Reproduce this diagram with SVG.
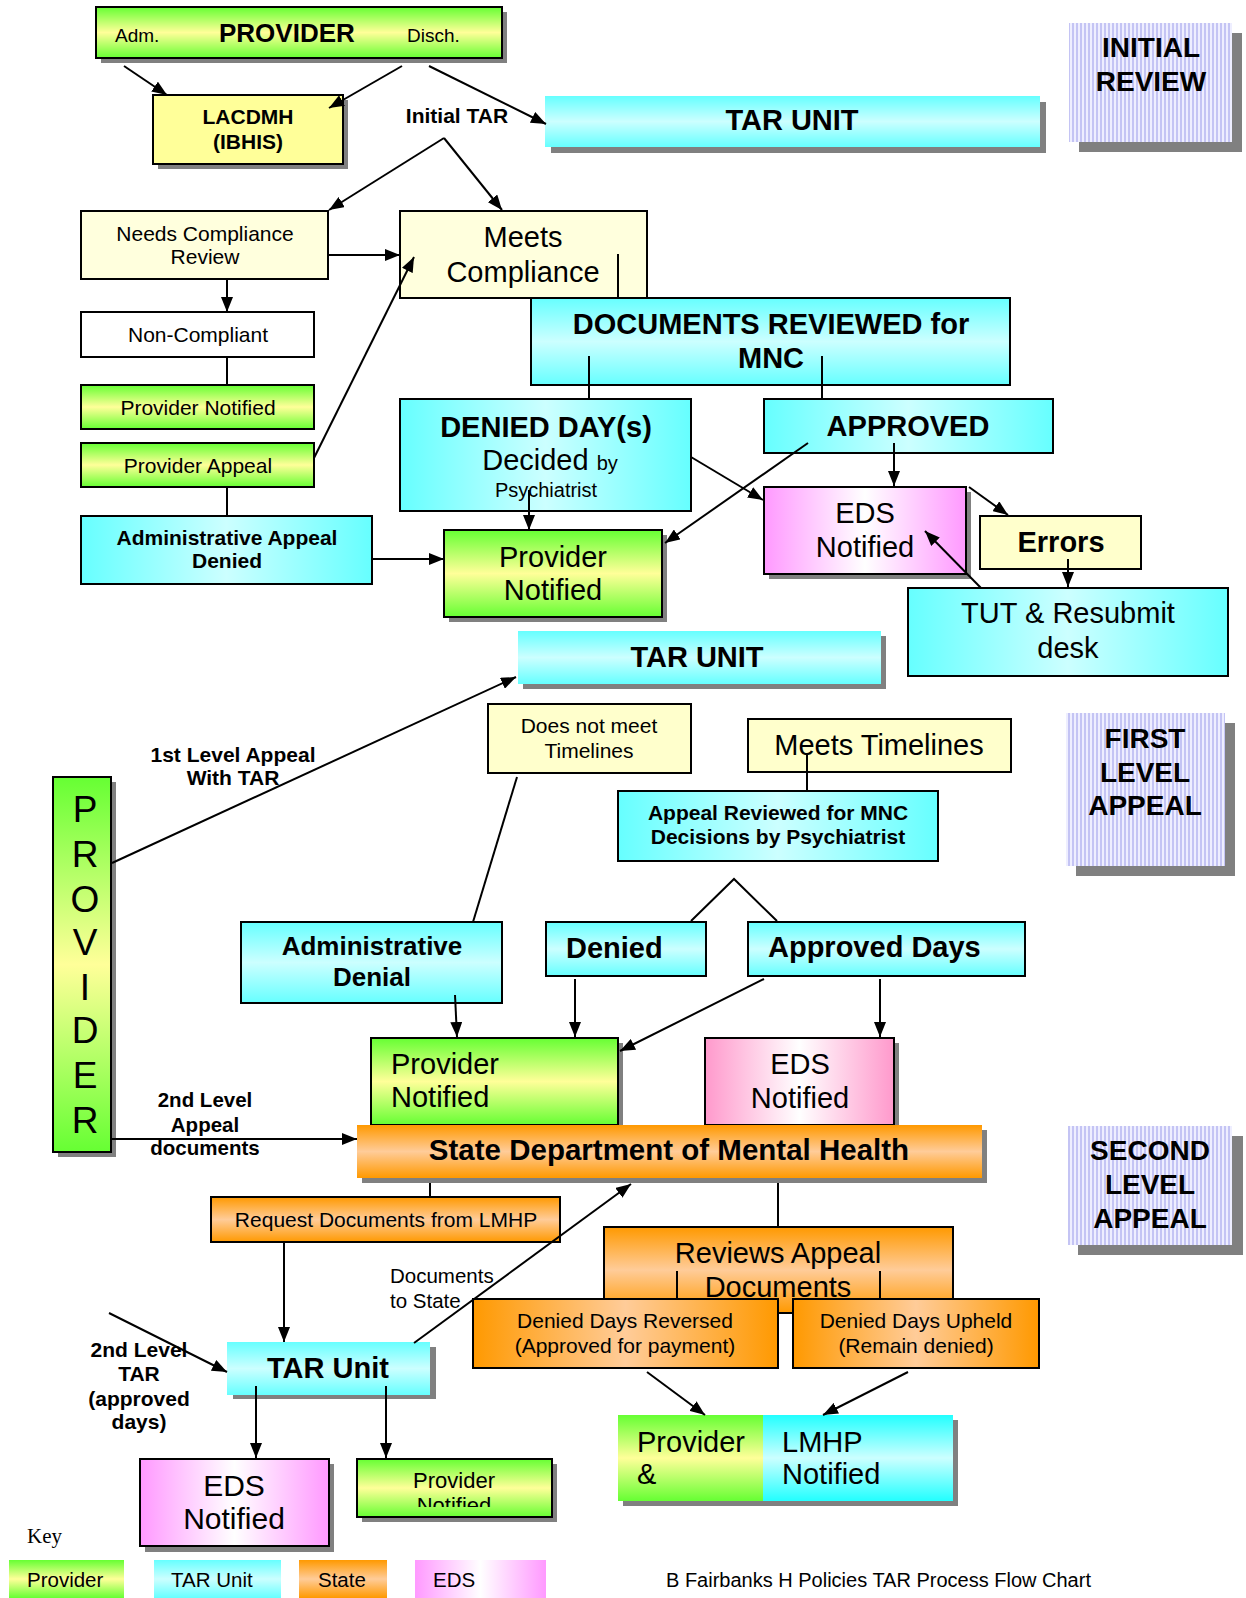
<svg xmlns="http://www.w3.org/2000/svg" width="1246" height="1598" viewBox="0 0 1246 1598">
<defs>
<style>
text{font-family:"Liberation Sans",Arial,sans-serif;fill:#000}
.b{font-weight:bold}
.m{text-anchor:middle}
.bx{stroke:#000;stroke-width:2}
.sh{fill:#808080}
.c{stroke:#000;stroke-width:2;fill:none}
.a{marker-end:url(#ah)}
</style>
<marker id="ah" markerUnits="userSpaceOnUse" markerWidth="16" markerHeight="12" refX="15" refY="6" orient="auto"><path d="M0,0 L15,6 L0,12 z" fill="#000"/></marker>
<linearGradient id="gGreenV" x1="0" y1="0" x2="0" y2="1"><stop offset="0" stop-color="#66FF33"/><stop offset="0.5" stop-color="#FFFF99"/><stop offset="1" stop-color="#66FF33"/></linearGradient>
<linearGradient id="gCyanV" x1="0" y1="0" x2="0" y2="1"><stop offset="0" stop-color="#66FFFF"/><stop offset="0.5" stop-color="#CCFFFF"/><stop offset="1" stop-color="#66FFFF"/></linearGradient>
<linearGradient id="gCyanV2" x1="0" y1="0" x2="0" y2="1"><stop offset="0" stop-color="#22FFFF"/><stop offset="0.5" stop-color="#CCFFFF"/><stop offset="1" stop-color="#22FFFF"/></linearGradient>
<linearGradient id="gCyanH" x1="0" y1="0" x2="1" y2="0"><stop offset="0" stop-color="#66FFFF"/><stop offset="0.5" stop-color="#CCFFFF"/><stop offset="1" stop-color="#66FFFF"/></linearGradient>
<linearGradient id="gOrangeV" x1="0" y1="0" x2="0" y2="1"><stop offset="0" stop-color="#FF9900"/><stop offset="0.5" stop-color="#FFCC99"/><stop offset="1" stop-color="#FF9900"/></linearGradient>
<linearGradient id="gOrangeH" x1="0" y1="0" x2="1" y2="0"><stop offset="0" stop-color="#FF9900"/><stop offset="0.5" stop-color="#FFCC99"/><stop offset="1" stop-color="#FF9900"/></linearGradient>
<linearGradient id="gPinkH" x1="0" y1="0" x2="1" y2="0"><stop offset="0" stop-color="#FF99FF"/><stop offset="0.5" stop-color="#FFFFFF"/><stop offset="1" stop-color="#FF99FF"/></linearGradient>
<linearGradient id="gPink2H" x1="0" y1="0" x2="1" y2="0"><stop offset="0" stop-color="#FF99CC"/><stop offset="0.5" stop-color="#FFFFFF"/><stop offset="1" stop-color="#FF99CC"/></linearGradient>
<pattern id="stripes" patternUnits="userSpaceOnUse" width="4" height="4"><rect width="4" height="4" fill="#EEEEFF"/><rect width="2" height="4" fill="#C4C4F4"/></pattern>
<clipPath id="clipPN3"><rect x="357" y="1459" width="195" height="48"/></clipPath>
</defs>
<rect width="1246" height="1598" fill="#FFFFFF"/>

<g id="provider-top">
<rect class="sh" x="101" y="12" width="406" height="51"/>
<rect class="bx" x="96" y="7" width="406" height="51" fill="url(#gGreenV)"/>
<text x="115" y="42" font-size="19">Adm.</text>
<text x="219" y="42" font-size="26" class="b">PROVIDER</text>
<text x="407" y="42" font-size="19">Disch.</text>
</g>
<g id="lacdmh">
<rect class="sh" x="158" y="100" width="190" height="69"/>
<rect class="bx" x="153" y="95" width="190" height="69" fill="#FFFF99"/>
<text x="248" y="124" font-size="21" class="b m">LACDMH</text>
<text x="248" y="149" font-size="21" class="b m">(IBHIS)</text>
</g>
<g id="tar-unit-1">
<rect class="sh" x="551" y="102" width="495" height="51"/>
<rect x="545" y="96" width="495" height="51" fill="url(#gCyanV)"/>
<text x="792" y="130" font-size="29" class="b m">TAR UNIT</text>
</g>
<g id="initial-review">
<rect class="sh" x="1079" y="33" width="163" height="119"/>
<rect x="1069" y="23" width="163" height="119" fill="url(#stripes)"/>
<text x="1151" y="57" font-size="28" class="b m">INITIAL</text>
<text x="1151" y="91" font-size="28" class="b m">REVIEW</text>
</g>
<g id="needs-compliance">
<rect class="bx" x="81" y="211" width="247" height="68" fill="#FFFFDD"/>
<text x="205" y="241" font-size="21" class="m">Needs Compliance</text>
<text x="205" y="264" font-size="21" class="m">Review</text>
</g>
<g id="meets-compliance">
<rect class="bx" x="400" y="211" width="247" height="87" fill="#FFFFDD"/>
<text x="523" y="247" font-size="29" class="m">Meets</text>
<text x="523" y="282" font-size="29" class="m">Compliance</text>
</g>
<g id="documents-reviewed">
<rect class="bx" x="531" y="298" width="479" height="87" fill="url(#gCyanV)"/>
<text x="771" y="334" font-size="29" class="b m">DOCUMENTS REVIEWED for</text>
<text x="771" y="368" font-size="29" class="b m">MNC</text>
</g>
<g id="non-compliant">
<rect class="bx" x="81" y="312" width="233" height="45" fill="#FFFFFF"/>
<text x="198" y="342" font-size="21" class="m">Non-Compliant</text>
</g>
<g id="provider-notified-1">
<rect class="bx" x="81" y="385" width="233" height="44" fill="url(#gGreenV)"/>
<text x="198" y="415" font-size="21" class="m">Provider Notified</text>
</g>
<g id="provider-appeal">
<rect class="bx" x="81" y="443" width="233" height="44" fill="url(#gGreenV)"/>
<text x="198" y="473" font-size="21" class="m">Provider Appeal</text>
</g>
<g id="admin-appeal-denied">
<rect class="bx" x="81" y="516" width="291" height="68" fill="url(#gCyanH)"/>
<text x="227" y="545" font-size="21" class="b m">Administrative Appeal</text>
<text x="227" y="568" font-size="21" class="b m">Denied</text>
</g>
<g id="denied-days">
<rect class="bx" x="400" y="399" width="291" height="112" fill="url(#gCyanH)"/>
<text x="546" y="437" font-size="29" class="b m">DENIED DAY(s)</text>
<text x="550" y="470" font-size="29" class="m">Decided <tspan font-size="20">by</tspan></text>
<text x="546" y="497" font-size="20" class="m">Psychiatrist</text>
</g>
<g id="approved">
<rect class="bx" x="764" y="399" width="289" height="54" fill="url(#gCyanH)"/>
<text x="908" y="436" font-size="29" class="b m">APPROVED</text>
</g>
<g id="provider-notified-2">
<rect class="sh" x="449" y="535" width="218" height="87"/>
<rect class="bx" x="444" y="530" width="218" height="87" fill="url(#gGreenV)"/>
<text x="553" y="567" font-size="29" class="m">Provider</text>
<text x="553" y="600" font-size="29" class="m">Notified</text>
</g>
<g id="eds-notified-1">
<rect class="sh" x="769" y="492" width="202" height="87"/>
<rect class="bx" x="764" y="487" width="202" height="87" fill="url(#gPinkH)"/>
<text x="865" y="523" font-size="29" class="m">EDS</text>
<text x="865" y="557" font-size="29" class="m">Notified</text>
</g>
<g id="errors">
<rect class="bx" x="980" y="516" width="161" height="53" fill="#FFFFCC"/>
<text x="1061" y="552" font-size="29" class="b m">Errors</text>
</g>
<g id="tut-resubmit">
<rect class="bx" x="908" y="588" width="320" height="88" fill="url(#gCyanH)"/>
<text x="1068" y="623" font-size="29" class="m">TUT &amp; Resubmit</text>
<text x="1068" y="658" font-size="29" class="m">desk</text>
</g>
<g id="tar-unit-2">
<rect class="sh" x="523" y="636" width="363" height="53"/>
<rect x="518" y="631" width="363" height="53" fill="url(#gCyanV)"/>
<text x="697" y="667" font-size="29" class="b m">TAR UNIT</text>
</g>
<g id="provider-vertical">
<rect class="sh" x="58" y="782" width="58" height="375"/>
<rect class="bx" x="53" y="777" width="58" height="375" fill="url(#gGreenV)"/>
<text x="85" y="822" font-size="37" class="m">P</text>
<text x="85" y="867" font-size="37" class="m">R</text>
<text x="85" y="912" font-size="37" class="m">O</text>
<text x="85" y="955" font-size="37" class="m">V</text>
<text x="85" y="1000" font-size="37" class="m">I</text>
<text x="85" y="1043" font-size="37" class="m">D</text>
<text x="85" y="1088" font-size="37" class="m">E</text>
<text x="85" y="1133" font-size="37" class="m">R</text>
</g>
<g id="does-not-meet">
<rect class="bx" x="488" y="704" width="203" height="69" fill="#FFFFCC"/>
<text x="589" y="733" font-size="21" class="m">Does not meet</text>
<text x="589" y="758" font-size="21" class="m">Timelines</text>
</g>
<g id="meets-timelines">
<rect class="bx" x="748" y="719" width="263" height="53" fill="#FFFFCC"/>
<text x="879" y="755" font-size="29" class="m">Meets Timelines</text>
</g>
<g id="appeal-reviewed">
<rect class="bx" x="618" y="791" width="320" height="70" fill="url(#gCyanH)"/>
<text x="778" y="820" font-size="21" class="b m">Appeal Reviewed for MNC</text>
<text x="778" y="844" font-size="21" class="b m">Decisions by Psychiatrist</text>
</g>
<g id="first-level-appeal">
<rect class="sh" x="1076" y="723" width="159" height="153"/>
<rect x="1066" y="713" width="159" height="153" fill="url(#stripes)"/>
<text x="1145" y="748" font-size="28" class="b m">FIRST</text>
<text x="1145" y="782" font-size="28" class="b m">LEVEL</text>
<text x="1145" y="815" font-size="28" class="b m">APPEAL</text>
</g>
<g id="admin-denial">
<rect class="bx" x="241" y="922" width="261" height="81" fill="url(#gCyanV)"/>
<text x="372" y="955" font-size="26" class="b m">Administrative</text>
<text x="372" y="986" font-size="26" class="b m">Denial</text>
</g>
<g id="denied">
<rect class="bx" x="546" y="922" width="160" height="54" fill="url(#gCyanV)"/>
<text x="566" y="958" font-size="29" class="b">Denied</text>
</g>
<g id="approved-days">
<rect class="bx" x="748" y="922" width="277" height="54" fill="url(#gCyanV)"/>
<text x="768" y="957" font-size="29" class="b">Approved Days</text>
</g>
<g id="provider-notified-3">
<rect class="sh" x="376" y="1043" width="247" height="87"/>
<rect class="bx" x="371" y="1038" width="247" height="87" fill="url(#gGreenV)"/>
<text x="391" y="1074" font-size="29">Provider</text>
<text x="391" y="1107" font-size="29">Notified</text>
</g>
<g id="eds-notified-2">
<rect class="sh" x="710" y="1043" width="189" height="87"/>
<rect class="bx" x="705" y="1038" width="189" height="87" fill="url(#gPink2H)"/>
<text x="800" y="1074" font-size="29" class="m">EDS</text>
<text x="800" y="1108" font-size="29" class="m">Notified</text>
</g>
<g id="state-dmh">
<rect class="sh" x="362" y="1130" width="625" height="53"/>
<rect x="357" y="1125" width="625" height="53" fill="url(#gOrangeV)"/>
<text x="669" y="1160" font-size="29.5" class="b m">State Department of Mental Health</text>
</g>
<g id="request-documents">
<rect class="bx" x="211" y="1197" width="349" height="45" fill="url(#gOrangeV)"/>
<text x="386" y="1227" font-size="21" class="m">Request Documents from LMHP</text>
</g>
<g id="reviews-appeal">
<rect class="bx" x="604" y="1227" width="349" height="86" fill="url(#gOrangeV)"/>
<text x="778" y="1263" font-size="29" class="m">Reviews Appeal</text>
<text x="778" y="1297" font-size="29" class="m">Documents</text>
</g>
<g id="denied-days-reversed">
<rect class="bx" x="473" y="1299" width="305" height="69" fill="url(#gOrangeH)"/>
<text x="625" y="1328" font-size="21" class="m">Denied Days Reversed</text>
<text x="625" y="1353" font-size="21" class="m">(Approved for payment)</text>
</g>
<g id="denied-days-upheld">
<rect class="bx" x="793" y="1299" width="246" height="69" fill="url(#gOrangeH)"/>
<text x="916" y="1328" font-size="21" class="m">Denied Days Upheld</text>
<text x="916" y="1353" font-size="21" class="m">(Remain denied)</text>
</g>
<g id="second-level-appeal">
<rect class="sh" x="1078" y="1136" width="165" height="119"/>
<rect x="1068" y="1126" width="164" height="119" fill="url(#stripes)"/>
<text x="1150" y="1160" font-size="28" class="b m">SECOND</text>
<text x="1150" y="1194" font-size="28" class="b m">LEVEL</text>
<text x="1150" y="1228" font-size="28" class="b m">APPEAL</text>
</g>
<g id="tar-unit-3">
<rect class="sh" x="233" y="1347" width="203" height="52"/>
<rect x="227" y="1342" width="203" height="53" fill="url(#gCyanV)"/>
<text x="328" y="1378" font-size="29" class="b m">TAR Unit</text>
</g>
<g id="eds-notified-3">
<rect class="sh" x="145" y="1464" width="189" height="88"/>
<rect class="bx" x="140" y="1459" width="189" height="87" fill="url(#gPinkH)"/>
<text x="234" y="1496" font-size="30" class="m">EDS</text>
<text x="234" y="1529" font-size="30" class="m">Notified</text>
</g>
<g id="provider-notified-4">
<rect class="sh" x="362" y="1464" width="195" height="58"/>
<rect class="bx" x="357" y="1459" width="195" height="58" fill="url(#gGreenV)"/>
<g clip-path="url(#clipPN3)">
<text x="454" y="1488" font-size="22" class="m">Provider</text>
<text x="454" y="1513" font-size="22" class="m">Notified</text>
</g>
</g>
<g id="provider-lmhp-notified">
<rect class="sh" x="623" y="1420" width="335" height="86"/>
<rect x="618" y="1415" width="145" height="86" fill="url(#gGreenV)"/>
<rect x="763" y="1415" width="190" height="86" fill="url(#gCyanV2)"/>
<text x="637" y="1452" font-size="29">Provider</text>
<text x="637" y="1484" font-size="29">&amp;</text>
<text x="782" y="1452" font-size="29">LMHP</text>
<text x="782" y="1484" font-size="29">Notified</text>
</g>

<g id="labels">
<text x="457" y="123" font-size="21" class="b m">Initial TAR</text>
<text x="233" y="762" font-size="21" class="b m">1st Level Appeal</text>
<text x="233" y="785" font-size="21" class="b m">With TAR</text>
<text x="205" y="1107" font-size="20.5" class="b m">2nd Level</text>
<text x="205" y="1132" font-size="20.5" class="b m">Appeal</text>
<text x="205" y="1155" font-size="20.5" class="b m">documents</text>
<text x="390" y="1283" font-size="20.5">Documents</text>
<text x="390" y="1308" font-size="20.5">to State</text>
<text x="139" y="1357" font-size="21" class="b m">2nd Level</text>
<text x="139" y="1381" font-size="21" class="b m">TAR</text>
<text x="139" y="1406" font-size="21" class="b m">(approved</text>
<text x="139" y="1429" font-size="21" class="b m">days)</text>
</g>

<g id="connectors">
<line class="c a" x1="124" y1="66" x2="167" y2="95"/>
<line class="c a" x1="402" y1="66" x2="329" y2="108"/>
<line class="c a" x1="429" y1="66" x2="546" y2="124"/>
<line class="c a" x1="444" y1="138" x2="329" y2="210"/>
<line class="c a" x1="444" y1="138" x2="502" y2="210"/>
<line class="c a" x1="328" y1="255" x2="400" y2="255"/>
<line class="c a" x1="227" y1="280" x2="227" y2="312"/>
<line class="c" x1="227" y1="357" x2="227" y2="385"/>
<line class="c" x1="227" y1="487" x2="227" y2="516"/>
<line class="c a" x1="314" y1="458" x2="414" y2="257"/>
<line class="c a" x1="372" y1="559" x2="444" y2="559"/>
<line class="c" x1="618" y1="254" x2="618" y2="298"/>
<line class="c" x1="589" y1="356" x2="589" y2="399"/>
<line class="c" x1="822" y1="356" x2="822" y2="399"/>
<line class="c a" x1="529" y1="490" x2="529" y2="530"/>
<line class="c a" x1="691" y1="457" x2="763" y2="500"/>
<line class="c a" x1="808" y1="443" x2="665" y2="543"/>
<line class="c a" x1="894" y1="443" x2="894" y2="486"/>
<line class="c a" x1="969" y1="487" x2="1008" y2="515"/>
<line class="c a" x1="1068" y1="559" x2="1068" y2="587"/>
<line class="c a" x1="981" y1="588" x2="925" y2="531"/>
<line class="c a" x1="112" y1="863" x2="516" y2="677"/>
<line class="c" x1="517" y1="777" x2="473" y2="922"/>
<line class="c" x1="807" y1="753" x2="807" y2="791"/>
<polyline class="c" points="691,921 734,879 777,921"/>
<line class="c a" x1="455" y1="995" x2="457" y2="1037"/>
<line class="c a" x1="575" y1="979" x2="575" y2="1037"/>
<line class="c a" x1="764" y1="979" x2="620" y2="1051"/>
<line class="c a" x1="880" y1="979" x2="880" y2="1037"/>
<line class="c a" x1="110" y1="1139" x2="357" y2="1139"/>
<line class="c" x1="430" y1="1183" x2="430" y2="1197"/>
<line class="c" x1="778" y1="1183" x2="778" y2="1227"/>
<line class="c a" x1="284" y1="1242" x2="284" y2="1342"/>
<line class="c a" x1="414" y1="1343" x2="631" y2="1184"/>
<line class="c a" x1="109" y1="1313" x2="227" y2="1372"/>
<line class="c" x1="677" y1="1271" x2="677" y2="1300"/>
<line class="c" x1="880" y1="1271" x2="880" y2="1300"/>
<line class="c a" x1="256" y1="1386" x2="256" y2="1458"/>
<line class="c a" x1="386" y1="1386" x2="386" y2="1458"/>
<line class="c a" x1="647" y1="1372" x2="705" y2="1415"/>
<line class="c a" x1="908" y1="1372" x2="823" y2="1415"/>
</g>

<g id="key">
<text x="27" y="1543" font-size="21" style="font-family:'Liberation Serif','Times New Roman',serif">Key</text>
<rect x="9" y="1560" width="115" height="38" fill="url(#gGreenV)"/>
<text x="27" y="1587" font-size="20.5">Provider</text>
<rect x="154" y="1560" width="127" height="38" fill="url(#gCyanV)"/>
<text x="171" y="1587" font-size="20.5">TAR Unit</text>
<rect x="299" y="1560" width="88" height="38" fill="url(#gOrangeV)"/>
<text x="318" y="1587" font-size="20.5">State</text>
<rect x="415" y="1560" width="131" height="38" fill="url(#gPinkH)"/>
<text x="433" y="1587" font-size="20.5">EDS</text>
</g>
<text id="footer" x="666" y="1587" font-size="20">B Fairbanks H Policies TAR Process Flow Chart</text>
</svg>
